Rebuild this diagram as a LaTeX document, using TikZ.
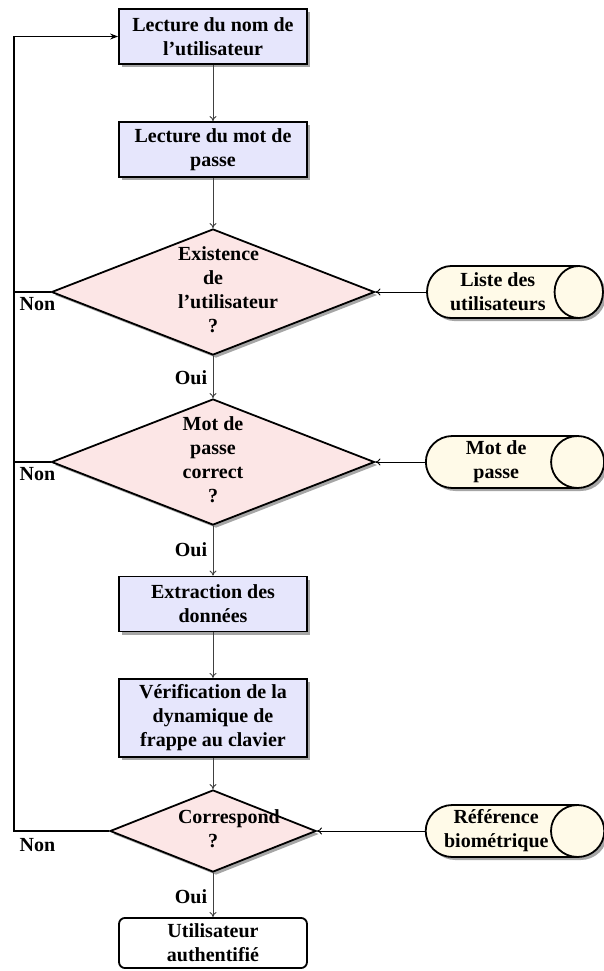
\documentclass[tikz,border=0pt]{standalone}
\usepackage{fontspec}
\setmainfont{Liberation Serif}
\usetikzlibrary{shapes.geometric,shadows,arrows.meta}
\definecolor{boxfill}{RGB}{230,230,252}
\definecolor{diafill}{RGB}{252,230,230}
\definecolor{cylfill}{RGB}{255,250,232}
\tikzset{
  shade/.style={drop shadow={shadow xshift=1.5pt,shadow yshift=-1.5pt,fill=black!35,opacity=1}},
  proc/.style={rectangle,draw=black,line width=0.9pt,fill=boxfill,shade,text width=86pt,inner xsep=4pt,inner ysep=3pt,minimum height=27.5pt,align=flush center,font=\bfseries},
  final/.style={rectangle,rounded corners=3pt,draw=black,line width=0.9pt,fill=white,text width=86pt,inner xsep=4pt,inner ysep=3pt,minimum height=25pt,align=flush center,font=\bfseries},
  dia/.style={diamond,draw=black,line width=0.9pt,fill=diafill,shade,inner sep=0pt},
  diatext/.style={text width=35pt,align=flush center,inner sep=0pt,font=\bfseries},
  cyl/.style={cylinder,draw=black,line width=0.9pt,fill=cylfill,shade,aspect=1.15,minimum height=88pt,minimum width=26pt,text width=52pt,align=flush center,inner sep=1pt,font=\bfseries},
  lab/.style={font=\bfseries,inner sep=0pt},
  flow/.style={draw=black!75,line width=0.45pt,-{To[length=2.5pt,width=3.5pt]}},
  ret/.style={draw=black,line width=0.55pt},
}
\begin{document}
\begin{tikzpicture}[x=0.5pt,y=-0.5pt]
\useasboundingbox (0,0) rectangle (604,971);
% process boxes
\node[proc] (b1) at (213,36.5) {Lecture du nom de l'utilisateur};
\node[proc] (b2) at (213,149.5) {Lecture du mot de passe};
\node[proc] (b3) at (213,604) {Extraction des données};
\node[proc,minimum height=39pt] (b4) at (213,718) {Vérification de la dynamique de frappe au clavier};
\node[final] (fin) at (213,943) {Utilisateur authentifié};
% decisions
\node[dia,minimum width=161.5pt,minimum height=63pt] (d1) at (213,292) {};
\node[diatext] (t1) at (213,290) {Existence de l'utilisateur ?};
\node[dia,minimum width=161.5pt,minimum height=63pt] (d2) at (213,462) {};
\node[diatext] (t2) at (213,460) {Mot de passe correct ?};
\node[dia,minimum width=103pt,minimum height=41pt] (d3) at (213,831) {};
\node[diatext] (t3) at (213,829) {Correspond ?};
% data stores
\node[cyl,anchor=shape center] (c1) at (515,292) {Liste des utilisateurs};
\node[cyl,anchor=shape center] (c2) at (515,462) {Mot de passe};
\node[cyl,anchor=shape center] (c3) at (515,831) {Référence biométrique};
% labels
\node[lab] (n1) at (37.5,304) {Non};
\node[lab] (n2) at (37.5,474) {Non};
\node[lab] (n3) at (37.5,845) {Non};
\node[lab] (o1) at (191,378) {Oui};
\node[lab] (o2) at (191,550) {Oui};
\node[lab] (o3) at (191,897) {Oui};
% return coordinates
\coordinate (l1) at (14,292);
\coordinate (l2) at (14,462);
\coordinate (l3) at (14,831);
% flow
\draw[flow] (b1) -- (b2);
\draw[flow] (b2) -- (d1);
\draw[flow] (d1.south) -- (d2.north);
\draw[flow] (d2.south) -- (b3);
\draw[flow] (b3) -- (b4);
\draw[flow] (b4) -- (d3.north);
\draw[flow] (d3.south) -- (fin);
\draw[flow,draw=black] (c1.west) -- (d1.east);
\draw[flow,draw=black] (c2.west) -- (d2.east);
\draw[flow,draw=black] (c3.west) -- (d3.east);
% return paths
\draw[ret] (d1.west) -- (l1);
\draw[ret] (d2.west) -- (l2);
\draw[ret,-{Stealth[length=4pt,width=3pt]}] (d3.west) -- (l3) |- (b1.west);
\end{tikzpicture}
\end{document}
